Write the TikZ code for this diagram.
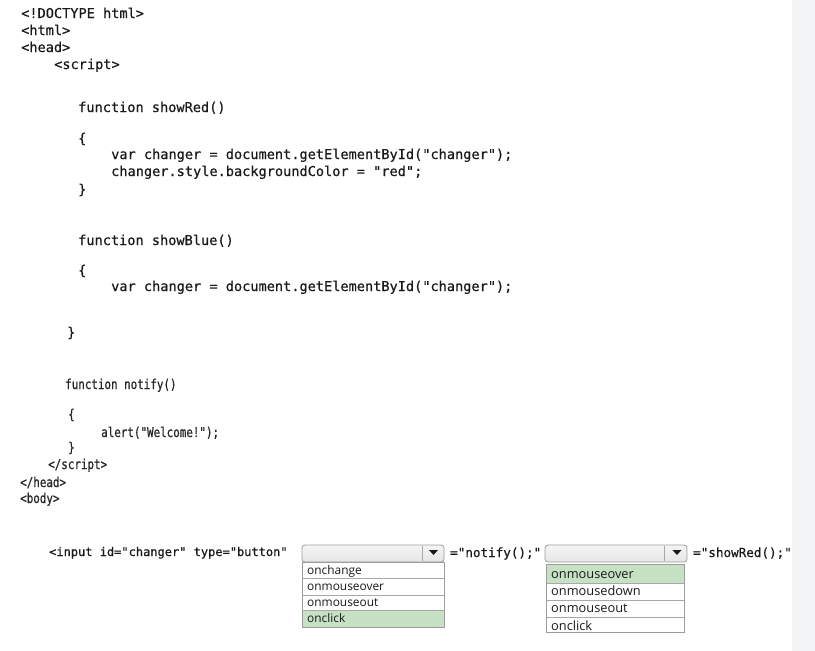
\documentclass[tikz,border=0pt]{standalone}
\usepackage{fontspec}
\newfontfamily\codefont[FakeBold=0.5]{DejaVu Sans Mono}
\newfontfamily\narrowfont[FakeStretch=0.8,FakeBold=0.6]{DejaVu Sans Mono}
\newfontfamily\uifont{Open Sans}
\definecolor{txt}{HTML}{1A1A1A}
\definecolor{txtb}{HTML}{262626}
\definecolor{stripc}{HTML}{F3F4F6}
\definecolor{boxline}{HTML}{9C9C9C}
\definecolor{rowline}{HTML}{A8A8A8}
\definecolor{selgreen}{HTML}{C7E1C5}
\begin{document}
\begin{tikzpicture}[x=1pt,y=-1pt,
  code/.style={inner sep=0pt,anchor=base west,text=txt,font=\codefont\fontsize{13.6}{16}\selectfont},
  ncode/.style={inner sep=0pt,anchor=base west,text=txtb,font=\narrowfont\fontsize{13.6}{16}\selectfont},
  scode/.style={inner sep=0pt,anchor=base west,text=txt,font=\codefont\fontsize{12}{14}\selectfont},
  mcode/.style={inner sep=0pt,anchor=base west,text=txt,font=\codefont\fontsize{12.6}{15}\selectfont},
  itema/.style={inner sep=0pt,anchor=base west,text=txt,font=\uifont\fontsize{11.9}{14}\selectfont},
  itemb/.style={inner sep=0pt,anchor=base west,text=txt,font=\uifont\fontsize{12.8}{15}\selectfont},
  selectbox/.style={draw=boxline,line width=0.8pt,rounded corners=3pt,top color=white!96!black,bottom color=white!90!black},
  listbox/.style={draw=boxline,line width=0.8pt,fill=white},
  rowsep/.style={draw=rowline,line width=0.7pt},
  arrowtri/.style={fill=txt,draw=none}
]
\useasboundingbox (0,0) rectangle (815,651);
\fill[white] (0,0) rectangle (815,651);
\fill[stripc] (792,0) rectangle (815,651);

% head part
\node[code] (l1) at (21,18) {<!DOCTYPE html>};
\node[code] (l2) at (21,35) {<html>};
\node[code] (l3) at (21,52) {<head>};
\node[code] (l4) at (54,69) {<script>};

% showRed
\node[code] (l5) at (78,112) {function showRed()};
\node[code] (l6) at (78,143) {\{};
\node[code] (l7) at (111,159) {var changer = document.getElementById("changer");};
\node[code] (l8) at (111,176) {changer.style.backgroundColor = "red";};
\node[code] (l9) at (78,194) {\}};

% showBlue
\node[code] (l10) at (78,245) {function showBlue()};
\node[code] (l11) at (78,275) {\{};
\node[code] (l12) at (111,291) {var changer = document.getElementById("changer");};
\node[code] (l13) at (67,337) {\}};

% notify
\node[ncode] (l14) at (65,389) {function notify()};
\node[ncode] (l15) at (68,419) {\{};
\node[ncode] (l16) at (101,437) {alert("Welcome!");};
\node[ncode] (l17) at (68,452) {\}};
\node[ncode] (l18) at (48,469) {</script>};
\node[ncode] (l19) at (20,487) {</head>};
\node[ncode] (l20) at (20,503) {<body>};

% input line
\node[scode] (inp) at (49,556) {<input id="changer" type="button"};
\node[mcode] (notif) at (450,557) {="notify();"};
\node[mcode] (showr) at (693,557) {="showRed();"};

% dropdown 1
\path[selectbox] (302,545) rectangle (444,562);
\draw[rowline] (422,546) -- (422,561);
\fill[arrowtri] (429,550) -- (438,550) -- (433.5,555) -- cycle;
\fill[selgreen] (302,610) rectangle (444,627);
\draw[listbox,fill=none] (302,562) rectangle (444,627);
\draw[rowsep] (302,578) -- (444,578);
\draw[rowsep] (302,595) -- (444,595);
\draw[rowsep] (302,610) -- (444,610);
\node[itema] (a1) at (307,574) {onchange};
\node[itema] (a2) at (307,590) {onmouseover};
\node[itema] (a3) at (307,606) {onmouseout};
\node[itema] (a4) at (307,622) {onclick};

% dropdown 2
\path[selectbox] (545,545) rectangle (687,562);
\draw[rowline] (664,546) -- (664,561);
\fill[arrowtri] (672.5,550) -- (681.5,550) -- (677,555) -- cycle;
\fill[selgreen] (546,564) rectangle (684,583);
\draw[rowsep] (546,583) -- (684,583);
\draw[rowsep] (546,600) -- (684,600);
\draw[rowsep] (546,617) -- (684,617);
\node[itemb] (b1) at (551,578) {onmouseover};
\node[itemb] (b2) at (551,595) {onmousedown};
\node[itemb] (b3) at (551,612) {onmouseout};
\begin{scope}
\clip (546,564) rectangle (684,632);
\node[itemb] (b4) at (551,630) {onclick};
\end{scope}
\draw[listbox,fill=none] (546,564) rectangle (684,632);
\end{tikzpicture}
\end{document}
